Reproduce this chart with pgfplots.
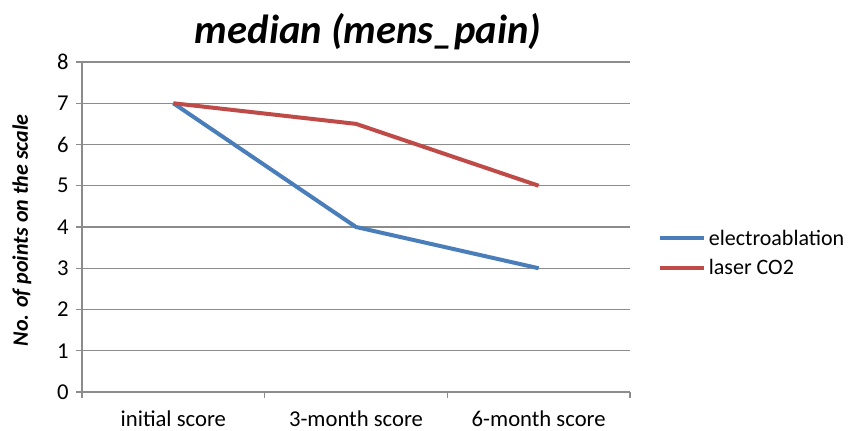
\documentclass[border=0pt]{standalone}
\usepackage{pgfplots}
\pgfplotsset{compat=1.18}
\usepackage{fontspec}
\setmainfont{Carlito}
\definecolor{eblue}{HTML}{4A7EBB}
\definecolor{lred}{HTML}{BE4B48}
\definecolor{gridgray}{HTML}{8C8C8C}
\begin{document}
\begin{tikzpicture}
\path[use as bounding box] (-61.5pt,-29.25pt) rectangle (584.25pt,294pt);
\begin{axis}[
  at={(0,0)}, anchor=south west,
  scale only axis, width=411pt, height=247.5pt,
  xmin=-0.5, xmax=2.5, ymin=0, ymax=8,
  axis x line=bottom, axis y line=left,
  axis line style={-, gridgray, line width=0.8pt},
  xtick={0,1,2},
  xticklabels={initial score,3-month score,6-month score},
  minor xtick={-0.5,0.5,1.5,2.5},
  ytick={0,1,...,8},
  tick align=outside,
  major tick length=4.5pt, minor tick length=4.5pt,
  x tick style={draw=none},
  minor x tick style={draw=gridgray, line width=0.8pt},
  y tick style={draw=gridgray, line width=0.8pt},
  ymajorgrids,
  grid style={gridgray, line width=0.8pt},
  /pgf/number format/assume math mode=true,
  tick label style={font=\fontsize{17}{19}\selectfont, black},
  xticklabel style={anchor=base, inner sep=0pt, text depth=0pt, yshift=-21.5pt},
  yticklabel style={xshift=-2pt},
  title={\textbf{\textit{median (mens\_pain)}}},
  title style={font=\fontsize{30.5}{34}\selectfont, at={(rel axis cs:0.522,1)}, anchor=base, yshift=7.5pt},
  ylabel={\textbf{\textit{No. of points on the scale}}},
  ylabel style={font=\fontsize{16.5}{19}\selectfont, at={(rel axis cs:-0.1095,0.49)}, anchor=center},
  legend style={at={(rel axis cs:1.051,0.421)}, anchor=west, draw=none, fill=none,
    font=\fontsize{16.5}{19}\selectfont, row sep=5pt, inner sep=0pt},
  legend cell align=left,
  legend image code/.code={\draw[#1] (0pt,0pt) -- (33pt,0pt);},
]
\addplot[eblue, line width=3pt] coordinates {(0,7) (1,4) (2,3)};
\addlegendentry{electroablation}
\addplot[lred, line width=3pt] coordinates {(0,7) (1,6.5) (2,5)};
\addlegendentry{laser CO2}
\end{axis}
\end{tikzpicture}
\end{document}
